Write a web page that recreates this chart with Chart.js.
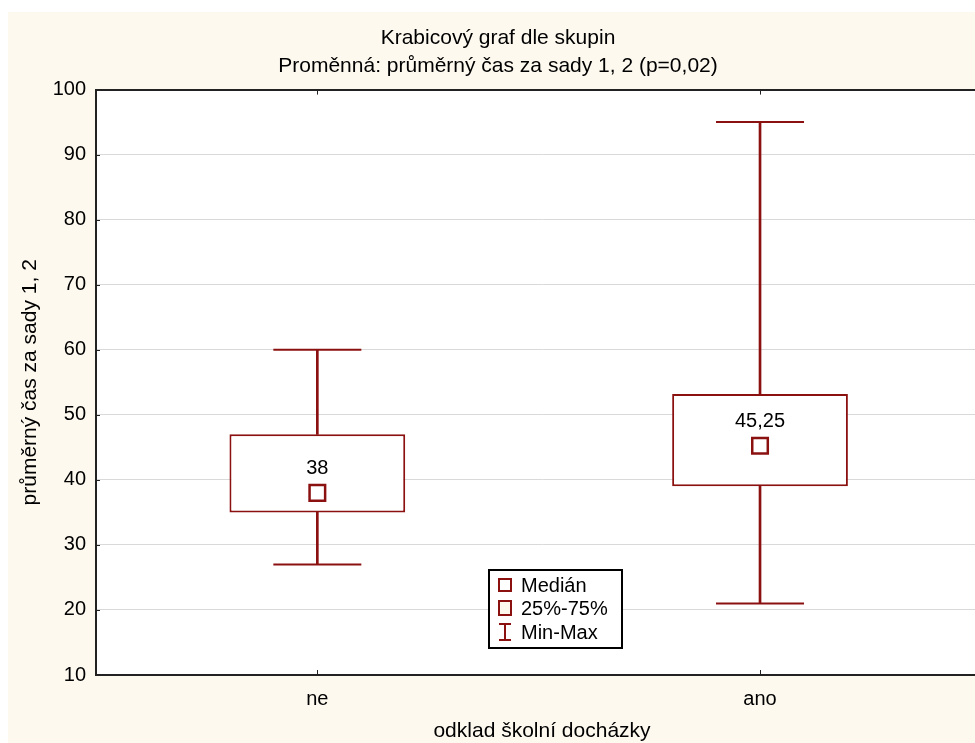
<!DOCTYPE html>
<html>
<head>
<meta charset="utf-8">
<script src="https://cdn.jsdelivr.net/npm/chart.js@4.4.1/dist/chart.umd.min.js"></script>
<style>
  html, body { margin: 0; padding: 0; background: #fff; overflow: hidden; }
  #boxChart { position: absolute; left: 8px; top: 12px; background: #fdf9ef; }
</style>
</head>
<body>
<canvas id="boxChart" width="980" height="731"></canvas>
<script>
// Data
const groups = ['ne', 'ano'];
const mins = [27, 21];
const q1s = [35, 39];
const medians = [38, 45.25];
const q3s = [47, 53.2];
const maxs = [60, 95];
const medianLabels = ['38', '45,25'];

const RED = '#8b1010';
const FONT = 'Liberation Sans, Arial, sans-serif';

const boxes = groups.map((g, i) => ({ x: i, y: [q1s[i], q3s[i]] }));
const whiskers = [];
const caps = [];
groups.forEach((g, i) => {
  whiskers.push({ x: i, y: [mins[i], q1s[i]] });
  whiskers.push({ x: i, y: [q3s[i], maxs[i]] });
  caps.push({ x: i, y: mins[i] });
  caps.push({ x: i, y: maxs[i] });
});
const medianPoints = groups.map((g, i) => ({ x: i, y: medians[i] }));

// bílé pozadí plochy grafu
const plotBg = {
  id: 'plotBg',
  beforeDraw(chart) {
    const { ctx, chartArea: a } = chart;
    ctx.save();
    ctx.fillStyle = '#fff';
    ctx.fillRect(a.left, a.top, a.right - a.left, a.bottom - a.top);
    ctx.restore();
  }
};

// krátké značky dovnitř grafu
const innerTicks = {
  id: 'innerTicks',
  afterDraw(chart) {
    const { ctx, chartArea: a, scales } = chart;
    ctx.save();
    ctx.strokeStyle = '#222';
    ctx.lineWidth = 1;
    ctx.beginPath();
    scales.x.ticks.forEach((t) => {
      const px = Math.round(scales.x.getPixelForValue(t.value)) + 0.5;
      ctx.moveTo(px, a.bottom); ctx.lineTo(px, a.bottom - 5);
      ctx.moveTo(px, a.top); ctx.lineTo(px, a.top + 5);
    });
    scales.y.ticks.forEach((t) => {
      const py = Math.round(scales.y.getPixelForValue(t.value)) + 0.5;
      ctx.moveTo(a.left, py); ctx.lineTo(a.left + 4, py);
    });
    ctx.stroke();
    ctx.restore();
  }
};

// popisky mediánu nad čtverečkem
const medianText = {
  id: 'medianText',
  afterDatasetsDraw(chart) {
    const meta = chart.getDatasetMeta(3);
    const c = chart.ctx;
    c.save();
    c.font = '20px ' + FONT;
    c.fillStyle = '#000';
    c.textAlign = 'center';
    c.textBaseline = 'middle';
    meta.data.forEach((pt, i) => c.fillText(medianLabels[i], pt.x, pt.y - 24));
    c.restore();
  }
};

// legenda uvnitř grafu
const boxLegend = {
  id: 'boxLegend',
  afterDraw(chart) {
    const c = chart.ctx;
    const x = 481, y = 558, w = 133, h = 78;
    c.save();
    c.fillStyle = '#fff';
    c.fillRect(x, y, w, h);
    c.strokeStyle = '#000';
    c.lineWidth = 2;
    c.strokeRect(x, y, w, h);

    const mx = 497;
    const rows = [573, 596, 620];
    c.strokeStyle = RED;
    c.lineWidth = 2;
    c.strokeRect(mx - 6, rows[0] - 6, 12, 12);
    c.fillStyle = '#fdf9ef';
    c.fillRect(mx - 6, rows[1] - 7, 12, 14);
    c.strokeRect(mx - 6, rows[1] - 7, 12, 14);
    c.beginPath();
    c.moveTo(mx - 6, rows[2] - 8); c.lineTo(mx + 6, rows[2] - 8);
    c.moveTo(mx, rows[2] - 8); c.lineTo(mx, rows[2] + 8);
    c.moveTo(mx - 6, rows[2] + 8); c.lineTo(mx + 6, rows[2] + 8);
    c.stroke();

    c.fillStyle = '#000';
    c.font = '20px ' + FONT;
    c.textBaseline = 'middle';
    ['Medián', '25%-75%', 'Min-Max'].forEach((t, i) => c.fillText(t, 513, rows[i] + 1));
    c.restore();
  }
};

new Chart(document.getElementById('boxChart'), {
  type: 'bar',
  data: {
    datasets: [
      {
        label: 'Min-Max',
        data: whiskers,
        grouped: false,
        order: 4,
        backgroundColor: RED,
        borderWidth: 0,
        barThickness: 2
      },
      {
        type: 'line',
        label: 'caps',
        data: caps,
        order: 3,
        showLine: false,
        pointStyle: 'line',
        pointRadius: 44,
        pointHoverRadius: 44,
        borderColor: RED,
        borderWidth: 2
      },
      {
        label: '25%-75%',
        data: boxes,
        grouped: false,
        order: 2,
        backgroundColor: '#fff',
        borderColor: RED,
        borderWidth: 2,
        borderSkipped: false,
        categoryPercentage: 1,
        barPercentage: 0.397
      },
      {
        type: 'line',
        label: 'Medián',
        data: medianPoints,
        order: 1,
        showLine: false,
        pointStyle: 'rect',
        pointRadius: 11,
        pointHoverRadius: 11,
        backgroundColor: '#fff',
        borderColor: RED,
        borderWidth: 2.5
      }
    ]
  },
  options: {
    responsive: false,
    animation: false,
    events: [],
    layout: { padding: 0, autoPadding: false },
    plugins: {
      legend: { display: false },
      tooltip: { enabled: false },
      title: {
        display: true,
        text: ['Krabicový graf dle skupin', 'Proměnná: průměrný čas za sady 1, 2 (p=0,02)'],
        color: '#000',
        font: { size: 21, family: FONT, weight: 'normal', lineHeight: 1.3 },
        padding: { top: 13, bottom: 10 }
      }
    },
    scales: {
      x: {
        type: 'linear',
        offset: false,
        min: -0.5,
        max: 1.515,
        afterBuildTicks: (scale) => { scale.ticks = groups.map((g, i) => ({ value: i })); },
        afterFit: (scale) => { scale.height = 68; scale.paddingLeft = 0; scale.paddingRight = 0; },
        ticks: {
          color: '#000',
          font: { size: 20, family: FONT },
          padding: 12,
          maxRotation: 0,
          callback: (v) => groups[v] ?? ''
        },
        grid: { display: false, drawTicks: false },
        border: { display: true, color: '#222', width: 2 },
        title: {
          display: true,
          text: 'odklad školní docházky',
          color: '#000',
          font: { size: 21, family: FONT },
          padding: { top: 0, bottom: -1 }
        }
      },
      y: {
        min: 10,
        max: 100,
        afterFit: (scale) => { scale.width = 88; scale.paddingTop = 0; scale.paddingBottom = 0; },
        ticks: {
          stepSize: 10,
          color: '#000',
          font: { size: 20, family: FONT },
          padding: 10
        },
        grid: {
          drawTicks: false,
          color: (ctx) => ctx.tick && ctx.tick.value === 100 ? '#222' : '#d9d9d9',
          lineWidth: (ctx) => ctx.tick && ctx.tick.value === 100 ? 2 : 1
        },
        border: { display: true, color: '#222', width: 2 },
        title: {
          display: true,
          text: 'průměrný čas za sady 1, 2',
          color: '#000',
          font: { size: 21, family: FONT },
          padding: { top: 10, bottom: 0 }
        }
      }
    }
  },
  plugins: [plotBg, medianText, innerTicks, boxLegend]
});
</script>
</body>
</html>
